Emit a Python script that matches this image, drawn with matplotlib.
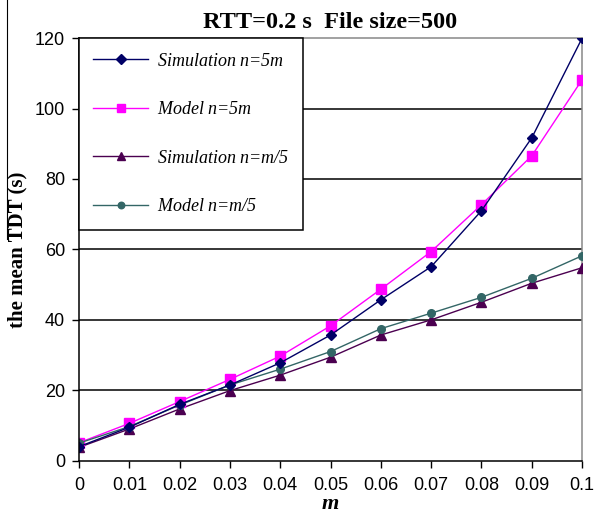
import matplotlib.pyplot as plt
from matplotlib.lines import Line2D
import numpy as np

m = [0, 0.01, 0.02, 0.03, 0.04, 0.05, 0.06, 0.07, 0.08, 0.09, 0.1]
sim_5m = [4, 9.5, 16, 21.5, 27.8, 35.7, 45.7, 55.1, 71, 91.7, 120]
model_5m = [5.1, 10.6, 16.8, 23.1, 29.7, 38.3, 48.7, 59.4, 72.7, 86.6, 108.2]
sim_m5 = [3.8, 9, 14.7, 19.9, 24.3, 29.4, 35.7, 40, 45, 50.4, 54.8]
model_m5 = [5, 9.7, 15.8, 21.5, 26, 31, 37.5, 41.9, 46.4, 51.8, 58.2]

x_ticks = [0, 0.01, 0.02, 0.03, 0.04, 0.05, 0.06, 0.07, 0.08, 0.09, 0.1]
x_labels = ['0', '0.01', '0.02', '0.03', '0.04', '0.05', '0.06', '0.07', '0.08', '0.09', '0.1']
y_ticks = [0, 20, 40, 60, 80, 100, 120]

fig = plt.figure(figsize=(5.94, 5.15), dpi=100)
ax = fig.add_axes([0.133, 0.1054, 0.847, 0.8206])

ax.plot(m, sim_5m, color='#000066', marker='D', markersize=5.5, lw=1, label='Simulation $n$=5$m$', zorder=5)
ax.plot(m, model_5m, color='#ff00ff', marker='s', markersize=6.5, lw=1, label='Model $n$=5$m$', zorder=4)
ax.plot(m, sim_m5, color='#4b0050', marker='^', markersize=7.5, lw=1, label='Simulation $n$=$m$/5', zorder=3)
ax.plot(m, model_m5, color='#336666', marker='o', markersize=5.5, lw=1, label='Model $n$=$m$/5', zorder=4)

ax.set_xlim(0, 0.1)
ax.set_ylim(0, 120)
ax.set_xticks(x_ticks)
ax.set_xticklabels(x_labels)
ax.set_yticks(y_ticks)
for y in y_ticks[1:-1]:
    ax.axhline(y, color='black', lw=1.1, zorder=1)

for lab in ax.get_xticklabels() + ax.get_yticklabels():
    lab.set_family('Liberation Sans')
    lab.set_fontsize(13)
ax.tick_params(direction='out', length=5, width=1, color='black')
ax.tick_params(axis='y', pad=5)
ax.tick_params(axis='x', pad=7)

ax.spines['left'].set_color('black')
ax.spines['bottom'].set_color('black')
ax.spines['top'].set_color('#888888')
ax.spines['right'].set_color('#888888')
for s in ax.spines.values():
    s.set_linewidth(1.1)
ax.spines['left'].set_zorder(6)

plt.rcParams['mathtext.fontset'] = 'custom'
plt.rcParams['mathtext.it'] = 'Liberation Serif:italic'
plt.rcParams['mathtext.rm'] = 'Liberation Serif:italic'

leg = ax.legend(loc='upper left', bbox_to_anchor=(0, 1), borderaxespad=0,
                fancybox=False, edgecolor='black', framealpha=1,
                prop={'family': 'Liberation Serif', 'style': 'italic', 'size': 13},
                labelspacing=1.75, handlelength=3, handletextpad=0.5,
                borderpad=0.8, markerscale=0.85)
leg.get_frame().set_linewidth(1.1)
leg.set_zorder(7)

ax.set_title('RTT=0.2 s  File size=500', family='Liberation Serif', fontweight='bold',
             fontsize=17.5, pad=7)
ax.set_ylabel('the mean TDT (s)', family='Liberation Serif', fontweight='bold',
              fontsize=15, labelpad=5)
ax.set_xlabel('m', family='Liberation Serif', fontweight='bold', style='italic',
              fontsize=16, labelpad=0)

# thin line left of the y label, as in the scanned figure
fig.add_artist(Line2D([0.012, 0.012], [1.0, 0.535], color='black', lw=0.8))

fig.savefig('out.png', dpi=100)
